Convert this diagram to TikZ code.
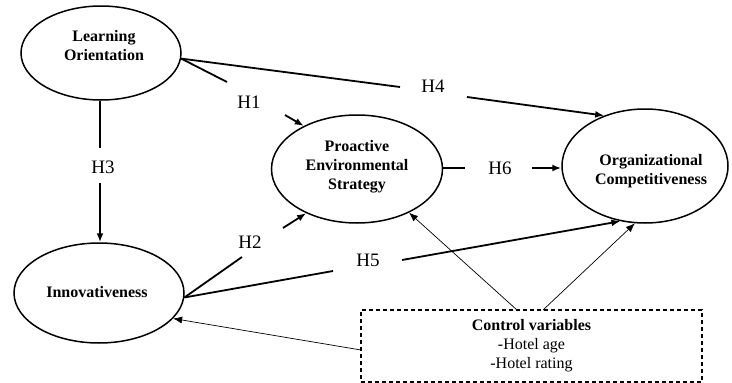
\documentclass[tikz,border=0pt]{standalone}
\usepackage{fontspec}
\setmainfont{Liberation Serif}
\usetikzlibrary{shapes.geometric,arrows.meta}
\begin{document}
\begin{tikzpicture}[x=1pt,y=-1pt,
  construct/.style={draw,ellipse,line width=1.5pt,inner sep=0pt},
  ctext/.style={font=\fontsize{16}{19}\selectfont\bfseries,align=center,inner sep=0pt},
  hyp/.style={font=\fontsize{19}{22}\selectfont,inner sep=0pt},
  thickline/.style={line width=1.8pt},
  thickarrow/.style={line width=1.8pt,-{Latex[length=9pt,width=7pt]}},
  thinarrow/.style={line width=0.7pt,-{Latex[length=9pt,width=7pt]}},
  ctrlbox/.style={draw,dashed,dash pattern=on 4pt off 3pt,line width=1.1pt,
    minimum width=341pt,minimum height=72pt,inner sep=0pt,
    font=\fontsize{16}{19}\selectfont,align=center}
]
\useasboundingbox (0,0) rectangle (732,383);
% constructs
\node[construct,minimum width=160pt,minimum height=94pt] (LO) at (101,53) {};
\node[ctext] (LOt) at (104,46) {Learning\\Orientation};
\node[construct,minimum width=170pt,minimum height=100pt] (Inn) at (99,293) {};
\node[ctext] (Innt) at (97,292) {Innovativeness};
\node[construct,minimum width=171pt,minimum height=108pt] (PES) at (357,169) {};
\node[ctext] (PESt) at (357,167) {Proactive\\Environmental\\Strategy};
\node[construct,minimum width=166pt,minimum height=114pt] (OC) at (645,166) {};
\node[ctext] (OCt) at (651,171) {Organizational\\Competitiveness};
\node[ctrlbox] (ctrl) at (531.5,346) {\textbf{Control variables}\\-Hotel age\\-Hotel rating};
% hypothesis labels
\node[hyp] (H1) at (249,102) {H1};
\node[hyp] (H2) at (250,242) {H2};
\node[hyp] (H3) at (103,167) {H3};
\node[hyp] (H4) at (433,86) {H4};
\node[hyp] (H5) at (368,260) {H5};
\node[hyp] (H6) at (500,168) {H6};
% break coordinates
\coordinate (h1a) at (227,82);
\coordinate (h1b) at (285,115);
\coordinate (h4a) at (400,87);
\coordinate (h4b) at (467,97);
\coordinate (h3a) at (100,148);
\coordinate (h3b) at (100,183);
\coordinate (h2a) at (242,257);
\coordinate (h2b) at (283,228);
\coordinate (h5a) at (333,271);
\coordinate (h5b) at (402,260);
\coordinate (h6a) at (465,168);
\coordinate (h6b) at (532,168);
\coordinate (c1) at (517,310);
\coordinate (c2) at (543,310);
\coordinate (c3) at (361,350);
% H1
\draw[thickline] (LO.-4) -- (h1a);
\draw[thickarrow] (h1b) -- (PES.141);
% H4
\draw[thickline] (LO.-4) -- (h4a);
\draw[thickarrow] (h4b) -- (OC.129);
% H3
\draw[thickline] (LO.south -| h3a) -- (h3a);
\draw[thickarrow] (h3b) -- (Inn.north -| h3b);
% H2
\draw[thickline] (Inn.-3) -- (h2a);
\draw[thickarrow] (h2b) -- (PES.221);
% H5
\draw[thickline] (Inn.-3) -- (h5a);
\draw[thickarrow] (h5b) -- (OC.246);
% H6
\draw[thickline] (PES.east |- h6a) -- (h6a);
\draw[thickarrow] (h6b) -- (OC.west |- h6b);
% control variables
\draw[thinarrow] (c1) -- (PES.-40);
\draw[thinarrow] (c2) -- (OC.260);
\draw[thinarrow] (c3) -- (Inn.-19);
\end{tikzpicture}
\end{document}
